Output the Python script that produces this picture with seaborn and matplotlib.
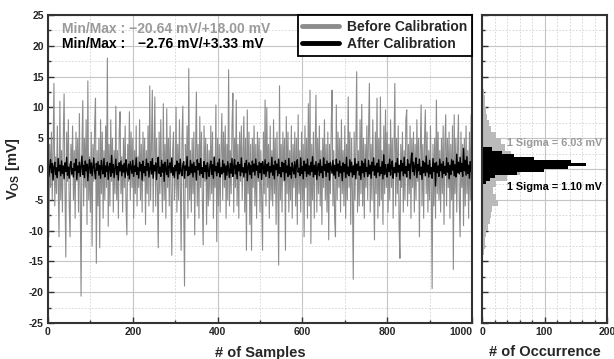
import numpy as np
import pandas as pd
import matplotlib
matplotlib.use('Agg')
import matplotlib.pyplot as plt
import seaborn as sns
from matplotlib.ticker import MultipleLocator

# offset voltage (mV) before calibration, every 2nd sample
before = [
    2, -11, 4, -3, 6, -5, 3, 13.9, -6, 2,
    -4, 7, -2, -11, 11, -5, 3, -7, 5, 12.2,
    -3, -14.3, 6, -2, 8, -6, -11, 4, -1, 7,
    -5, 3, -8, 6, -2, 5, -7, 9, -4, -20.64,
    3, 11.1, -6, 5, -3, 8, -9, 14.3, -5, 2,
    -7, 6, -12.5, 4, -2, 7, 11.5, -15.3, 3, -6,
    5, -12.8, 8, -4, 6, -8, 3, -5, 7, -3,
    18.0, -9.3, 4, -6, 8, -2, 5, -7, 3, -4,
    10.2, -5, 3, -8, 6, 9.3, -4, 2, -7, 5,
    -3, 7, -6, -10.7, 4, -2, 9.3, -5, 6, -3,
    5, -8, 3, -4, 7, -6, 2, -3, 8, -5,
    4, -7, 6, -2, 5, -9, 3, -4, 7, -6,
    13.5, -5, 4, 12.8, -7, 3, 11.7, -6, 5, -3,
    -12.8, 6, -4, 8, -2, -7, 10.6, -5, 4, -8,
    9.8, -3, 5, -6, 7, -4, -14.0, 3, 6, -5,
    -2, 10.0, -7, 4, -5, 8, -3, -13.2, 5, 10.2,
    -6, -19.0, 4, -3, 7, -8, 16.3, -5, 3, -7,
    5, -4, 6, -10.7, 3, 12.5, -6, 4, -8, 8.5,
    -3, 6, -5, -12.3, 7, -2, 5, -9, 4, -6,
    3, -5, 7, -4, 6, -8, 2, -3, 10.4, -11.8,
    5, -6, 4, -7, 3, 9.0, -5, 6, -3, 7,
    -8, 4, -5, 16.1, -6, 3, -4, 7, 12.3, -7,
    5, -3, 11.2, -6, 4, -8, 6, -2, 7, -5,
    3, 8.5, -7, 5, -13.2, 9.6, -4, 6, -9, 4,
    -13.2, 5, -3, 7, -6, 4, -8, 6, -2, 5,
    -7, 3, -5, -13.2, 6, -4, 11.2, -6, 10.0, -3,
    4, -8, 7, -5, 3, -6, 8, -4, 5, -9,
    6, -3, -15.6, 13.5, -5, 4, -7, 6, -2, 5,
    -13.2, 8.5, -4, 6, -7, 3, -5, 7, -8, 4,
    -3, 6, -6, 5, -9, 8.8, -4, 3, -7, 6,
    -5, 4, -11.0, 7, -3, 5, -8, 10.6, -6, 12.8,
    -12.1, 4, -5, 6, -8, 3, 12.0, -7, 5, -4,
    7, -6, 3, -9, 5, -3, 8, -5, 4, -7,
    6, -11.5, 4, -4, 7, 12.8, -6, 3, -8, -11.0,
    10.4, -5, 6, -3, 5, -7, 8, -4, 3, -6,
    7, -8, 4, -5, 11.7, -3, 6, -9, 5, -4,
    -17.9, 6, -5, 4, 15.8, -7, 3, -6, 8, -4,
    10.5, -6, 5, -8, 4, -3, 7, -5, 6, 13.9,
    -7, 4, -5, 8, -3, -11.5, 6, -4, 11.5, -8,
    5, -6, 11.7, -5, 3, -9, 7, -4, 9.6, -3,
    6, -7, 4, -5, 8, -3, 5, -8, 3, 13.9,
    -6, 5, -4, 7, -9, -14.5, 4, -3, 6, -7,
    3, -5, 8, 9.6, -6, 4, -4, 7, -8, 5,
    -3, 6, -7, 4, -5, 8, -2, 5, -11.0, 3,
    10.4, -6, 4, -8, 5, 9.6, -4, 6, -7, 3,
    -5, 7, -3, -19.4, 4, -6, 5, -8, 11.2, -4,
    6, -5, 3, -7, 5, -4, 7, -9, 4, 8.8,
    -6, 5, -3, 6, -8, 4, -5, 7, -16.3, 8.8,
    -4, 5, -7, 3, 8.8, -5, -11.0, 6, -3, 4,
    -9.2, 5, -6, 7, -4, 3, -8, 6, -5, 8.8,
]

# offset voltage (mV) after calibration
after = [
    0.8, -1.2, 0.3, 1.5, -0.6, 0.9, -1.8, 0.4, 1.1, -0.9,
    0.2, -1.4, 1.7, -0.3, 0.6, -1.1, 1.3, -0.7, 0.5, -1.6,
    1.0, -0.4, 1.9, -1.0, 0.3, -1.5, 0.7, 1.2, -0.8, 0.1,
    -1.3, 0.9, -0.2, 1.6, -1.7, 0.5, -0.6, 1.1, -1.2, 0.4,
    2.1, -0.9, 0.6, -1.4, 1.3, -0.3, 0.8, -1.9, 0.2, 1.5,
    -0.7, 1.0, -1.1, 0.4, 1.8, -0.5, -1.6, 0.9, -0.2, 1.2,
    -1.0, 0.6, -1.5, 1.4, 0.1, -0.8, 1.7, -1.3, 0.5, -0.4,
    1.1, -1.7, 0.3, 0.9, -1.2, 2.2, -0.6, 0.7, -1.4, 0.2,
    1.6, -0.9, 0.4, -1.8, 1.0, -0.3, 1.3, -1.1, 0.6, -0.5,
    0.9, -1.4, 1.5, -0.2, -1.0, 0.8, -1.6, 1.2, 0.3, -0.7,
    1.4, -1.2, 0.5, -0.4, 1.8, -0.9, 0.2, -1.5, 1.1, -0.3,
    0.7, -1.8, 1.3, -0.6, 0.4, -1.1, 1.6, -0.2, 0.9, -1.3,
    0.1, 1.2, -0.8, 1.7, -1.5, 0.6, -0.3, 1.0, -1.7, 0.5,
    1.9, -0.7, 0.3, -1.2, 1.4, -0.5, 0.8, -2.0, 1.1, -0.1,
    -0.9, 1.5, -1.3, 0.4, 1.0, -0.6, 1.8, -1.0, 0.2, -1.4,
    0.6, -0.3, 1.3, -1.6, 0.9, -0.8, 1.6, -0.4, -1.1, 0.7,
    1.2, -1.5, 0.5, -0.2, 2.0, -1.1, 0.3, -0.9, 1.4, -0.6,
    0.8, -1.3, 1.1, -0.5, 0.4, -1.8, 1.5, -0.1, 0.9, -1.0,
    1.7, -0.7, 0.2, -1.4, 1.2, -0.4, 0.6, -1.6, 1.0, -0.2,
    -1.2, 0.5, 1.3, -0.9, 0.7, -1.5, 1.9, -0.3, 0.4, -1.1,
    1.0, -0.6, 1.6, -1.3, 0.2, -0.8, 1.4, -0.5, 0.8, -1.7,
    0.5, -1.0, 1.2, -0.2, -1.4, 0.9, -0.7, 1.7, -1.2, 0.3,
    1.5, -0.8, 0.6, -1.6, 1.1, -0.3, 0.7, -1.1, 1.8, -0.5,
    0.2, -1.3, 0.9, -0.6, 1.4, -1.9, 0.4, 1.0, -0.9, 0.6,
    -1.5, 1.3, -0.4, 0.8, -1.0, 1.6, -0.2, 0.5, -1.4, 1.1,
    -0.6, 0.9, -1.7, 1.2, 0.3, -0.8, 1.5, -1.2, 0.7, -0.3,
    1.0, -1.4, 0.4, -0.5, 1.9, -1.0, 0.6, -1.6, 1.3, -0.1,
    0.8, -1.1, 1.6, -0.7, 0.2, -1.3, 1.1, -0.4, 0.9, -1.8,
    1.4, -0.6, 0.5, -1.2, 1.7, -0.9, 0.3, -1.5, 1.0, -0.2,
    -0.8, 1.2, -1.4, 0.7, 1.5, -0.5, 0.1, -1.1, 1.8, -0.7,
    0.4, -1.6, 1.3, -0.3, 0.8, -1.2, 1.6, -0.8, 0.5, -1.0,
    1.1, -0.4, 2.0, -1.3, 0.6, -0.9, 1.2, -1.7, 0.3, 0.9,
    -1.1, 1.5, -0.6, 0.4, -1.4, 1.8, -0.2, 0.7, -1.2, 1.3,
    -0.5, 0.9, -1.8, 1.1, 0.2, -0.7, 1.4, -1.0, 0.6, -1.5,
    1.6, -0.3, 0.8, -1.2, 1.3, -0.6, 0.4, -1.9, 1.0, -0.4,
    0.7, -1.4, 1.9, -0.8, 0.3, -1.1, 1.5, -0.5, 1.1, -1.3,
    0.5, -0.9, 1.7, -1.6, 0.8, -0.2, 1.2, -1.0, 0.4, -1.7,
    1.3, -0.6, 0.9, -1.3, 1.6, -0.4, 0.2, -1.2, 1.4, -0.8,
    0.6, -1.5, 1.1, -0.3, 1.8, -1.0, 0.5, -1.4, 0.9, -0.5,
    1.5, -1.1, 0.3, -0.7, 1.2, -1.6, 2.3, -0.9, 0.7, -0.2,
    -1.3, 0.8, -0.4, 1.6, -1.0, 0.5, 1.3, -1.5, 0.2, -0.6,
    1.0, -1.2, 1.7, -0.5, 0.6, -1.8, 1.4, -0.3, 0.9, -1.1,
    1.9, -0.7, 0.4, -1.3, 1.5, -0.2, 0.8, -1.6, 1.2, 2.6,
    -0.4, 1.1, -1.0, 0.5, 1.8, -1.4, 0.7, -0.3, 1.6, -0.9,
    0.3, -1.7, 1.3, -0.6, 1.0, -1.1, 2.1, -0.5, 0.6, -1.3,
    1.4, -0.8, 0.2, -1.5, 1.7, -0.4, 0.9, -2.76, 1.1, -0.6,
    0.5, -1.2, 1.6, -0.3, 0.8, -1.4, 1.2, -0.7, 0.4, -1.0,
    1.8, -0.5, 1.0, -1.6, 0.6, -0.9, 1.5, -0.2, 1.3, -1.1,
    0.7, -1.3, 2.4, -0.6, 1.1, -0.8, 1.9, -0.4, 0.9, -1.2,
    3.33, -0.3, 1.4, -1.0, 2.0, -0.7, 0.6, -1.5, 1.2, -0.4,
]

# histogram counts
gray_lo = np.arange(-21, 19, 1.0)      # lower bin edges, 1 mV bins
gray_counts = [1, 0, 1, 1, 1, 2, 2, 3, 4, 5, 7, 9, 13, 15, 16, 26, 22, 17, 22, 40,
               60, 70, 60, 46, 36, 30, 22, 15, 11, 8, 7, 5, 4, 3, 2, 2, 1, 1, 0, 1]
black_lo = np.arange(-2.5, 3.01, 0.5)  # lower bin edges, 0.5 mV bins
black_counts = [6, 13, 21, 56, 99, 137, 167, 142, 83, 51, 32, 16]

GRAY = '#8c8c8c'
LIGHT = '#bababa'

sns.set_style('ticks')
plt.rcParams['font.family'] = ['Liberation Sans', 'DejaVu Sans']
plt.rcParams['font.weight'] = 'bold'
plt.rcParams['axes.unicode_minus'] = False
plt.rcParams['mathtext.fontset'] = 'custom'
plt.rcParams['mathtext.rm'] = 'Liberation Sans:bold'
plt.rcParams['mathtext.bf'] = 'Liberation Sans:bold'

fig = plt.figure(figsize=(6.14, 3.59), dpi=100)
ax = fig.add_axes([48/614, 36/359, 424/614, 308/359])
axh = fig.add_axes([482/614, 36/359, 125/614, 308/359])

samples = np.arange(len(before)) * 2
sns.lineplot(x=samples, y=before, ax=ax, color=GRAY, linewidth=0.8,
             estimator=None, label='Before Calibration')
sns.lineplot(x=samples, y=after, ax=ax, color='black', linewidth=1.0,
             estimator=None, label='After Calibration')

ax.set_xlim(0, 1000)
ax.set_ylim(-25, 25)
ax.set_xticks(np.arange(0, 1001, 200))
ax.xaxis.set_minor_locator(MultipleLocator(100))
ax.yaxis.set_major_locator(MultipleLocator(5))
ax.yaxis.set_minor_locator(MultipleLocator(2.5))
ax.set_xlabel('# of Samples', fontsize=10.5, fontweight='bold', labelpad=6)
ax.set_ylabel(r'V$_{\rm OS}$ [mV]', fontsize=10.5, fontweight='bold')
ax.yaxis.set_label_coords(-0.061, 0.5)
ax.get_xticklabels()[-1].set_ha('right')

leg = ax.legend(loc='upper right', bbox_to_anchor=(1, 1), borderaxespad=0,
                fancybox=False, framealpha=1, edgecolor='black',
                prop={'weight': 'bold', 'size': 10}, handlelength=2.6,
                labelspacing=0.25, borderpad=0.35, handletextpad=0.6)
leg.get_frame().set_linewidth(1.3)
for ln in leg.get_lines():
    ln.set_linewidth(3.5)

ax.text(0.033, 0.955, 'Min/Max : \u221220.64 mV/+18.00 mV', transform=ax.transAxes,
        color='#9a9a9a', fontsize=10, fontweight='bold', va='center')
ax.text(0.033, 0.906, 'Min/Max :', transform=ax.transAxes,
        color='black', fontsize=10, fontweight='bold', va='center')
ax.text(0.212, 0.906, '\u22122.76 mV/+3.33 mV', transform=ax.transAxes,
        color='black', fontsize=10, fontweight='bold', va='center')

# histogram panel
gray_df = pd.DataFrame({'v': gray_lo + 0.5, 'n': gray_counts})
black_df = pd.DataFrame({'v': black_lo + 0.25, 'n': black_counts})
sns.histplot(data=gray_df, y='v', weights='n', binwidth=1, binrange=(-21, 19),
             ax=axh, color=LIGHT, alpha=1, linewidth=0)
sns.histplot(data=black_df, y='v', weights='n', binwidth=0.5, binrange=(-2.5, 3.5),
             ax=axh, color='black', alpha=1, linewidth=0)
axh.set_xlim(0, 200)
axh.set_ylim(-25, 25)
axh.xaxis.set_major_locator(MultipleLocator(100))
axh.xaxis.set_minor_locator(MultipleLocator(20))
axh.yaxis.set_major_locator(MultipleLocator(5))
axh.yaxis.set_minor_locator(MultipleLocator(2.5))
axh.set_yticklabels([])
axh.set_ylabel('')
axh.set_xlabel('# of Occurrence', fontsize=10.5, fontweight='bold', labelpad=6)
axh.text(0.2, 0.584, '1 Sigma = 6.03 mV', transform=axh.transAxes,
         color='#9a9a9a', fontsize=7.8, fontweight='bold', va='center')
axh.text(0.2, 0.442, '1 Sigma = 1.10 mV', transform=axh.transAxes,
         color='black', fontsize=7.8, fontweight='bold', va='center')

for a in (ax, axh):
    a.set_axisbelow(True)
    a.grid(which='major', color='#c4c4c4', linewidth=0.8, linestyle='-')
    a.grid(which='minor', color='#d2d2d2', linewidth=0.6, linestyle=(0, (2, 2)))
    a.tick_params(which='both', direction='in', top=False, right=False,
                  labelsize=7.5, width=1, color='#333333', pad=3)
    a.tick_params(which='major', length=4)
    a.tick_params(which='minor', length=2.5)
    for lab in a.get_xticklabels() + a.get_yticklabels():
        lab.set_fontweight('bold')
    for s in a.spines.values():
        s.set_linewidth(1.5)
        s.set_color('#333333')

fig.savefig('out.png', dpi=100)
